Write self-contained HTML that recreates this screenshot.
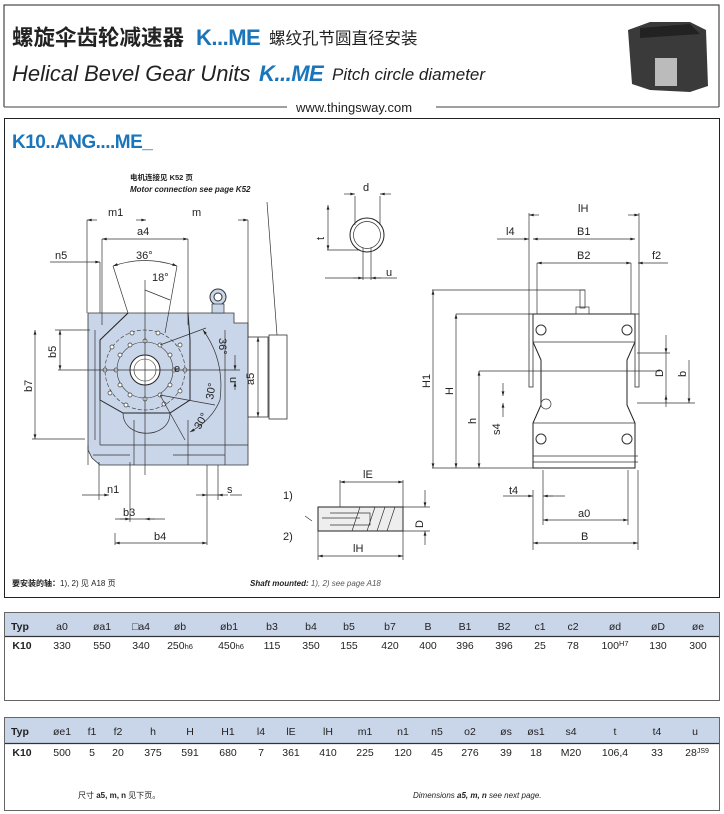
<!DOCTYPE html>
<html><head><meta charset="utf-8"><style>
html,body{margin:0;padding:0;background:#fff}
svg{display:block}
text{font-family:"Liberation Sans","Noto Sans CJK SC",sans-serif;fill:#222}
.d{font-size:11px}
.t{font-size:10.5px;fill:#444}
.ln{stroke:#333;stroke-width:0.7;fill:none}
.th{stroke:#222;stroke-width:1;fill:none}
</style></head><body>
<svg width="724" height="814" viewBox="0 0 724 814" xmlns="http://www.w3.org/2000/svg">
<defs>
<marker id="a" viewBox="0 0 10 6" refX="10" refY="3" markerWidth="10" markerHeight="4" orient="auto-start-reverse"><path d="M0,0L10,3L0,6z" fill="#222"/></marker>
</defs>
<!-- header box -->
<path d="M4,107V5H719V107" class="th" stroke="#666"/>
<line x1="4" y1="107" x2="287" y2="107" stroke="#666" stroke-width="1.2"/>
<line x1="436" y1="107" x2="719" y2="107" stroke="#666" stroke-width="1.2"/>
<text x="296" y="112" font-size="13">www.thingsway.com</text>
<text x="12" y="45" font-size="21.5" font-weight="bold" fill="#222">螺旋伞齿轮减速器</text>
<text x="196" y="45" font-size="22" font-weight="bold" style="fill:#1a75bb" letter-spacing="-0.5">K...ME</text>
<text x="269" y="44" font-size="16.5">螺纹孔节圆直径安装</text>
<text x="12" y="81" font-size="22" font-style="italic">Helical Bevel Gear Units</text>
<text x="259" y="81" font-size="22" font-style="italic" font-weight="bold" style="fill:#1a75bb" letter-spacing="-0.5">K...ME</text>
<text x="332" y="80" font-size="17" font-style="italic">Pitch circle diameter</text>
<!-- photo -->
<path d="M628,30L650,22L690,22L706,30L708,86L690,92L650,90L632,84Z" fill="#3a3a3a"/>
<rect x="655" y="58" width="22" height="28" fill="#bbb"/>
<path d="M640,28L690,24L700,34L640,38Z" fill="#222"/>
<!-- main box -->
<rect x="4.5" y="118.5" width="715" height="479" class="th" stroke="#666"/>
<text x="12" y="148" font-size="19" font-weight="bold" style="fill:#1a75bb" letter-spacing="-0.5">K10..ANG....ME_</text>
<text x="130" y="180" font-size="7.5" font-weight="bold">电机连接见 K52 页</text>
<text x="130" y="192" font-size="8" font-weight="bold" font-style="italic">Motor connection see page K52</text>
<line x1="267" y1="202" x2="277" y2="335" class="ln"/>

<!-- left view body -->
<path d="M88,313H234V323H248V465H100L92,458L88,450Z" fill="#c9d5e8" stroke="#333" stroke-width="0.8"/>
<rect x="248" y="337" width="20" height="80" fill="#fff" stroke="#333" stroke-width="0.8"/>
<rect x="269" y="335" width="18" height="84" fill="#fff" stroke="#333" stroke-width="0.8"/>
<circle cx="218" cy="297" r="8" fill="#c9d5e8" stroke="#333"/>
<circle cx="218" cy="297" r="4" fill="#fff" stroke="#333"/>
<rect x="212" y="304" width="12" height="9" fill="#c9d5e8" stroke="#333" stroke-width="0.7"/>
<path d="M128,313L100,340V400L123,413H170L190,400V340L188,313" class="th"/>
<path d="M123,413C123,440 170,440 170,413" class="ln"/>
<path d="M100,400V445M134,420V465M188,420V465M100,445H248M225,330V465M95,330V440" class="ln"/>
<path d="M88,445V465M130,455H93M173,455H225" class="ln"/>
<circle cx="145" cy="370" r="40" fill="none" stroke="#333" stroke-width="0.6" stroke-dasharray="4,2"/>
<circle cx="145" cy="370" r="28" fill="none" stroke="#333" stroke-width="0.6"/>
<circle cx="145" cy="370" r="15" fill="#fff" stroke="#222"/>
<circle cx="145" cy="370" r="11" fill="#fff" stroke="#333" stroke-width="0.6"/>
<g fill="#fff" stroke="#333" stroke-width="0.7">
<circle cx="145" cy="341" r="2"/><circle cx="160" cy="345" r="2"/><circle cx="170" cy="355" r="2"/><circle cx="174" cy="370" r="2"/><circle cx="170" cy="385" r="2"/><circle cx="160" cy="395" r="2"/><circle cx="145" cy="399" r="2"/><circle cx="130" cy="395" r="2"/><circle cx="120" cy="385" r="2"/><circle cx="116" cy="370" r="2"/><circle cx="120" cy="355" r="2"/><circle cx="130" cy="345" r="2"/>
<circle cx="105" cy="370" r="2"/><circle cx="185" cy="370" r="2"/><circle cx="132" cy="333" r="2"/><circle cx="158" cy="333" r="2"/><circle cx="112" cy="347" r="2"/><circle cx="180" cy="345" r="2"/><circle cx="110" cy="393" r="2"/><circle cx="180" cy="391" r="2"/><circle cx="126" cy="405" r="2"/><circle cx="164" cy="404" r="2"/>
</g>
<line x1="58" y1="370" x2="240" y2="370" class="ln"/>
<line x1="145" y1="280" x2="145" y2="475" class="ln"/>
<g class="ln">
<path d="M87,220V313M248,220V337M102,239V325M188,239V325M100,262V313M82,495H99M99,462V500M130,462V522M115,519H165M115,533V545M207,465V545M130,519H160M207,495H220M218,465V500M230,495H242"/>
<line x1="87" y1="220" x2="97" y2="220" marker-start="url(#a)"/>
<line x1="136" y1="220" x2="146" y2="220" marker-end="url(#a)"/>
<line x1="238" y1="220" x2="248" y2="220" marker-end="url(#a)"/>
<line x1="102" y1="239" x2="188" y2="239" marker-start="url(#a)" marker-end="url(#a)"/>
<line x1="50" y1="262" x2="100" y2="262" marker-end="url(#a)"/>
<line x1="60" y1="330" x2="60" y2="370" marker-start="url(#a)" marker-end="url(#a)"/>
<line x1="35" y1="330" x2="35" y2="439" marker-start="url(#a)" marker-end="url(#a)"/>
<path d="M32,439H85M55,330H90"/>
<line x1="99" y1="495" x2="109" y2="495" marker-end="url(#a)"/>
<line x1="120" y1="519" x2="130" y2="519" marker-end="url(#a)"/>
<line x1="145" y1="519" x2="155" y2="519" marker-start="url(#a)"/>
<line x1="115" y1="543" x2="207" y2="543" marker-start="url(#a)" marker-end="url(#a)"/>
<line x1="196" y1="495" x2="207" y2="495" marker-end="url(#a)"/>
<line x1="218" y1="495" x2="228" y2="495" marker-start="url(#a)"/>
<path d="M113,266Q145,255 177,266" marker-start="url(#a)" marker-end="url(#a)"/>
<path d="M113,266L128,313M177,266L165,333M145,290L170,300"/>
<path d="M203,330Q225,360 220,400Q212,420 190,432" marker-start="url(#a)" marker-end="url(#a)"/>
<path d="M160,345L206,328M160,395L215,405M160,395L185,440"/>
<line x1="258" y1="337" x2="258" y2="417" marker-start="url(#a)" marker-end="url(#a)"/>
<line x1="235" y1="355" x2="235" y2="370" marker-end="url(#a)"/>
<line x1="235" y1="382" x2="235" y2="390" marker-start="url(#a)"/>
</g>
<g class="d">
<text x="108" y="216">m1</text><text x="192" y="216">m</text><text x="137" y="235">a4</text>
<text x="55" y="259">n5</text><text x="136" y="259">36°</text><text x="152" y="281">18°</text>
<text x="107" y="493">n1</text><text x="123" y="516">b3</text><text x="154" y="540">b4</text><text x="227" y="493">s</text>
<text transform="translate(56,358) rotate(-90)">b5</text>
<text transform="translate(32,392) rotate(-90)">b7</text>
<text transform="translate(254,385) rotate(-90)">a5</text>
<text transform="translate(219,338) rotate(90)">36°</text>
<text transform="translate(213,400) rotate(-80)">30°</text>
<text transform="translate(200,430) rotate(-60)">30°</text>
<text transform="translate(236,383) rotate(-90)">n</text>
<text x="174" y="372">e</text>
</g>
<text x="12" y="586" font-size="8" font-weight="bold">要安装的轴：<tspan font-weight="normal">1), 2) 见 A18 页</tspan></text>
<text x="250" y="586" font-size="8" font-style="italic" font-weight="bold">Shaft mounted: <tspan font-weight="normal" fill="#555">1), 2) see page A18</tspan></text>

<circle cx="367" cy="235" r="17" fill="none" stroke="#222"/>
<circle cx="367" cy="235" r="13.5" fill="none" stroke="#333" stroke-width="0.7"/>
<g class="ln">
<path d="M355,196V225M380,196V225M363,248V280M371,248V280M327,250H360M325,278H397"/>
<line x1="344" y1="194" x2="355" y2="194" marker-end="url(#a)"/>
<line x1="380" y1="194" x2="391" y2="194" marker-start="url(#a)"/>
<line x1="328" y1="205" x2="328" y2="250" marker-start="url(#a)" marker-end="url(#a)"/>
<line x1="353" y1="278" x2="363" y2="278" marker-end="url(#a)"/>
<line x1="371" y1="278" x2="381" y2="278" marker-start="url(#a)"/>
</g>
<text class="d" x="363" y="191">d</text><text class="d" x="386" y="276">u</text>
<text class="d" transform="translate(324,240) rotate(-90)">t</text>

<rect x="318" y="507" width="85" height="24" fill="#eee" stroke="#222"/>
<path d="M330,513H370V525H330M322,518H360M360,507L352,531M375,507L367,531M385,507L377,531M395,507L387,531" class="ln"/>
<g class="ln">
<path d="M340,480V507M403,480V560M318,531V560M403,507H430M403,531H430M305,516L312,521"/>
<line x1="340" y1="482" x2="403" y2="482" marker-start="url(#a)" marker-end="url(#a)"/>
<line x1="318" y1="556" x2="403" y2="556" marker-start="url(#a)" marker-end="url(#a)"/>
<line x1="425" y1="490" x2="425" y2="507" marker-end="url(#a)"/>
<line x1="425" y1="531" x2="425" y2="545" marker-start="url(#a)"/>
</g>
<text class="d" x="363" y="478">lE</text><text class="d" x="353" y="552">lH</text>
<text class="d" x="283" y="499">1)</text><text class="d" x="283" y="540">2)</text>
<text class="d" transform="translate(423,528) rotate(-90)">D</text>

<path d="M533,314H635V342L627,360V405L635,423V468H533V423L541,405V360L533,342Z" fill="#fff" stroke="#222"/>
<path d="M533,342H635M533,423H635M533,456H638M533,462H638" class="ln"/>
<rect x="529" y="314" width="4" height="73" fill="none" stroke="#333" stroke-width="0.8"/>
<rect x="635" y="314" width="4" height="73" fill="none" stroke="#333" stroke-width="0.8"/>
<circle cx="541" cy="330" r="5" fill="none" stroke="#333"/><circle cx="627" cy="330" r="5" fill="none" stroke="#333"/>
<circle cx="541" cy="439" r="5" fill="none" stroke="#333"/><circle cx="627" cy="439" r="5" fill="none" stroke="#333"/>
<rect x="580" y="290" width="5" height="18" fill="none" stroke="#333" stroke-width="0.7"/>
<rect x="576" y="307" width="13" height="7" fill="none" stroke="#333" stroke-width="0.7"/>
<circle cx="546" cy="404" r="5" fill="none" stroke="#333" stroke-width="0.7"/>
<g class="ln">
<path d="M529,213V314M639,213V314M533,490V550M638,470V550M543,470V525M628,470V525M432,290H585M456,314H533M479,371H660M432,468H533M637,353H670M637,403H695M547,496H565"/>
<line x1="529" y1="215" x2="539" y2="215" marker-start="url(#a)"/>
<line x1="628" y1="215" x2="639" y2="215" marker-end="url(#a)"/>
<line x1="497" y1="239" x2="529" y2="239" marker-end="url(#a)"/>
<line x1="533" y1="239" x2="635" y2="239" marker-start="url(#a)" marker-end="url(#a)"/>
<line x1="537" y1="263" x2="631" y2="263" marker-start="url(#a)" marker-end="url(#a)"/>
<line x1="638" y1="263" x2="668" y2="263" marker-start="url(#a)"/>
<path d="M537,263V314M631,263V314"/>
<line x1="433" y1="290" x2="433" y2="468" marker-start="url(#a)" marker-end="url(#a)"/>
<line x1="456" y1="314" x2="456" y2="468" marker-start="url(#a)" marker-end="url(#a)"/>
<line x1="479" y1="371" x2="479" y2="468" marker-start="url(#a)" marker-end="url(#a)"/>
<line x1="503" y1="383" x2="503" y2="396" marker-end="url(#a)"/>
<line x1="503" y1="403" x2="503" y2="417" marker-start="url(#a)"/>
<line x1="666" y1="335" x2="666" y2="353" marker-end="url(#a)"/>
<line x1="666" y1="353" x2="666" y2="403" />
<line x1="666" y1="395" x2="666" y2="407" marker-start="url(#a)"/>
<line x1="689" y1="360" x2="689" y2="403" marker-end="url(#a)"/>
<line x1="503" y1="496" x2="533" y2="496" marker-end="url(#a)"/>
<line x1="543" y1="496" x2="553" y2="496" marker-start="url(#a)"/>
<line x1="543" y1="520" x2="628" y2="520" marker-start="url(#a)" marker-end="url(#a)"/>
<line x1="533" y1="543" x2="638" y2="543" marker-start="url(#a)" marker-end="url(#a)"/>
</g>
<g class="d">
<text x="578" y="212">lH</text><text x="506" y="235">l4</text><text x="577" y="235">B1</text>
<text x="577" y="259">B2</text><text x="652" y="259">f2</text>
<text x="509" y="494">t4</text><text x="578" y="517">a0</text><text x="581" y="540">B</text>
<text transform="translate(430,388) rotate(-90)">H1</text>
<text transform="translate(453,395) rotate(-90)">H</text>
<text transform="translate(476,424) rotate(-90)">h</text>
<text transform="translate(500,435) rotate(-90)">s4</text>
<text transform="translate(663,377) rotate(-90)">D</text>
<text transform="translate(686,377) rotate(-90)">b</text>
</g>

<rect x="4.5" y="612.5" width="715" height="88" fill="none" stroke="#666"/>
<rect x="5" y="613" width="714" height="23" fill="#c9d6ea"/>
<line x1="5" y1="636.5" x2="719" y2="636.5" stroke="#333" stroke-width="1.2"/>
<g class="t" text-anchor="middle">
<text x="20" y="630" font-weight="bold" fill="#222">Typ</text><text x="62" y="630">a0</text><text x="102" y="630">øa1</text><text x="141" y="630">□a4</text><text x="180" y="630">øb</text><text x="229" y="630">øb1</text><text x="272" y="630">b3</text><text x="311" y="630">b4</text><text x="349" y="630">b5</text><text x="390" y="630">b7</text><text x="428" y="630">B</text><text x="465" y="630">B1</text><text x="504" y="630">B2</text><text x="540" y="630">c1</text><text x="573" y="630">c2</text><text x="615" y="630">ød</text><text x="658" y="630">øD</text><text x="698" y="630">øe</text>
<text x="22" y="649" font-weight="bold" fill="#222">K10</text><text x="62" y="649">330</text><text x="102" y="649">550</text><text x="141" y="649">340</text><text x="180" y="649">250<tspan font-size="7.5">h6</tspan></text><text x="231" y="649">450<tspan font-size="7.5">h6</tspan></text><text x="272" y="649">115</text><text x="311" y="649">350</text><text x="349" y="649">155</text><text x="390" y="649">420</text><text x="428" y="649">400</text><text x="465" y="649">396</text><text x="504" y="649">396</text><text x="540" y="649">25</text><text x="573" y="649">78</text><text x="615" y="649">100<tspan font-size="7.5" dy="-3">H7</tspan></text><text x="658" y="649">130</text><text x="698" y="649">300</text>
</g>
<rect x="4.5" y="717.5" width="715" height="93" fill="none" stroke="#666"/>
<rect x="5" y="718" width="714" height="25" fill="#c9d6ea"/>
<line x1="5" y1="743.5" x2="719" y2="743.5" stroke="#333" stroke-width="1.2"/>
<g class="t" text-anchor="middle">
<text x="20" y="735" font-weight="bold" fill="#222">Typ</text><text x="62" y="735">øe1</text><text x="92" y="735">f1</text><text x="118" y="735">f2</text><text x="153" y="735">h</text><text x="190" y="735">H</text><text x="228" y="735">H1</text><text x="261" y="735">l4</text><text x="291" y="735">lE</text><text x="328" y="735">lH</text><text x="365" y="735">m1</text><text x="403" y="735">n1</text><text x="437" y="735">n5</text><text x="470" y="735">o2</text><text x="506" y="735">øs</text><text x="536" y="735">øs1</text><text x="571" y="735">s4</text><text x="615" y="735">t</text><text x="657" y="735">t4</text><text x="695" y="735">u</text>
<text x="22" y="756" font-weight="bold" fill="#222">K10</text><text x="62" y="756">500</text><text x="92" y="756">5</text><text x="118" y="756">20</text><text x="153" y="756">375</text><text x="190" y="756">591</text><text x="228" y="756">680</text><text x="261" y="756">7</text><text x="291" y="756">361</text><text x="328" y="756">410</text><text x="365" y="756">225</text><text x="403" y="756">120</text><text x="437" y="756">45</text><text x="470" y="756">276</text><text x="506" y="756">39</text><text x="536" y="756">18</text><text x="571" y="756">M20</text><text x="615" y="756">106,4</text><text x="657" y="756">33</text><text x="697" y="756">28<tspan font-size="7" dy="-3">JS9</tspan></text>
</g>
<text x="78" y="798" font-size="8">尺寸 <tspan font-weight="bold">a5, m, n</tspan> 见下页。</text>
<text x="413" y="798" font-size="8" font-style="italic" fill="#555">Dimensions <tspan font-weight="bold" fill="#222">a5, m, n</tspan> see next page.</text>
</svg>
</body></html>
